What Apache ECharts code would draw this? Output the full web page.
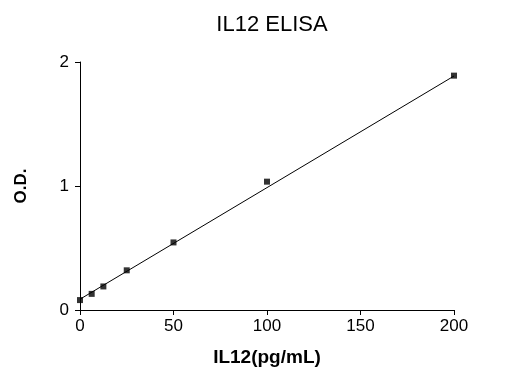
<!DOCTYPE html>
<html>
<head>
<meta charset="utf-8">
<script src="https://cdn.jsdelivr.net/npm/echarts@6/dist/echarts.min.js"></script>
<style>
  html, body { margin: 0; padding: 0; background: #fff; }
  #main { width: 507px; height: 383px; }
</style>
</head>
<body>
<div id="main"></div>
<script>
// standard concentrations (pg/mL) and measured O.D.
var conc = [0, 6.25, 12.5, 25, 50, 100, 200]
var od = [0.08, 0.13, 0.19, 0.32, 0.545, 1.035, 1.89]
// fitted line end points
var fitX = [0, 200]
var fitY = [0.087, 1.887]

var font = 'Liberation Sans, Arial, sans-serif'
var myChart = echarts.init(document.getElementById('main'))
myChart.setOption({
  animation: false,
  title: {
    text: 'IL12 ELISA',
    left: 267,
    textAlign: 'center',
    top: 9,
    textStyle: { fontFamily: font, fontSize: 22, fontWeight: 'normal', color: '#000' }
  },
  grid: { left: 80, right: 53, top: 62, bottom: 73 },
  xAxis: {
    type: 'value',
    min: 0,
    max: 200,
    interval: 50,
    name: 'IL12(pg/mL)',
    nameLocation: 'middle',
    nameGap: 38,
    nameTextStyle: { fontFamily: font, fontSize: 19, fontWeight: 'bold', color: '#000' },
    axisLine: { lineStyle: { color: '#000', width: 1 } },
    axisTick: { length: 5, lineStyle: { color: '#000' } },
    axisLabel: { fontFamily: font, fontSize: 17, color: '#000', margin: 8 },
    splitLine: { show: false }
  },
  yAxis: {
    type: 'value',
    min: 0,
    max: 2,
    interval: 1,
    name: 'O.D.',
    nameLocation: 'middle',
    nameRotate: 90,
    nameGap: 50,
    nameTextStyle: { fontFamily: font, fontSize: 17, fontWeight: 'bold', color: '#000' },
    axisLine: { show: true, lineStyle: { color: '#000', width: 1 } },
    axisTick: { show: true, length: 5, lineStyle: { color: '#000' } },
    axisLabel: { fontFamily: font, fontSize: 17, color: '#000', margin: 11 },
    splitLine: { show: false }
  },
  series: [
    {
      name: 'fit',
      type: 'line',
      data: fitX.map(function (x, i) { return [x, fitY[i]] }),
      symbol: 'none',
      lineStyle: { color: '#000', width: 1 },
      silent: true
    },
    {
      name: 'standards',
      type: 'scatter',
      data: conc.map(function (x, i) { return [x, od[i]] }),
      symbol: 'rect',
      symbolSize: 6,
      itemStyle: { color: '#000' }
    }
  ]
})
</script>
</body>
</html>
